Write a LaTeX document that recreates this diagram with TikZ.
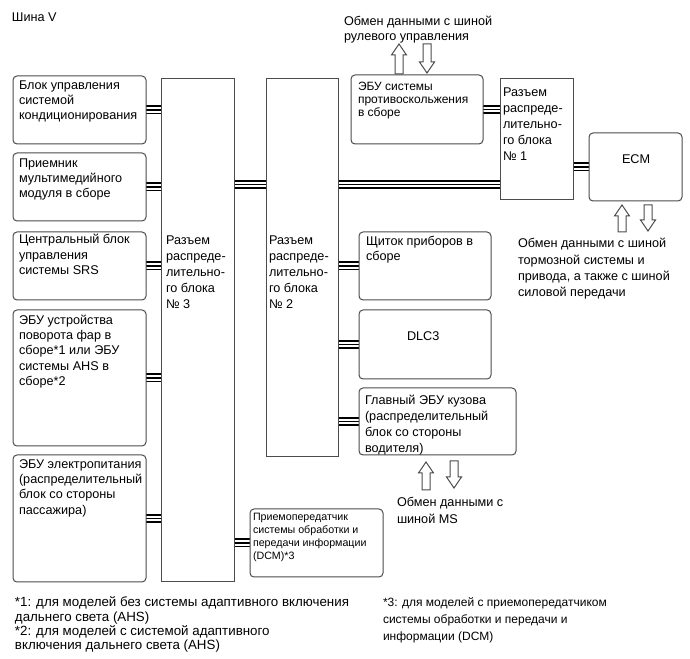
\documentclass[tikz,border=0pt]{standalone}
\usepackage{fontspec}
\setmainfont{Liberation Sans}
\usetikzlibrary{calc,backgrounds}
\newdimen\PX \PX=0.75pt
% box text: width, height, top offset, left offset, lines (all in px)
\newcommand\BT[5]{\parbox[c][#2\PX][t]{#1\PX}{\vspace*{#3\PX}\hspace*{#4\PX}\begin{tabular}[t]{@{}l@{}}#5\end{tabular}}}
\newcommand\TL[1]{\begin{tabular}[t]{@{}l@{}}#1\end{tabular}}
\newcommand\HUp[2]{\draw[harr,shift={(#1)}] (-4,0) -- (-4,{-#2+11}) -- (-7.5,{-#2+11}) -- (0,-#2) -- (7.5,{-#2+11}) -- (4,{-#2+11}) -- (4,0) -- cycle;}
\newcommand\HDn[2]{\draw[harr,shift={(#1)}] (-4,0) -- (-4,{#2-11}) -- (-7.5,{#2-11}) -- (0,#2) -- (7.5,{#2-11}) -- (4,{#2-11}) -- (4,0) -- cycle;}
\tikzset{
  bx/.style 2 args={draw=black!70, line width=0.75pt, rounded corners=3pt, inner sep=0pt, outer sep=0pt, anchor=north west, minimum width=#1*0.75pt, minimum height=#2*0.75pt},
  rx/.style 2 args={bx={#1}{#2}, sharp corners},
  bus/.style={draw=black, line width=6.75pt, postaction={draw=white, line width=4.1pt}, postaction={draw=black, line width=1.2pt}},
  harr/.style={draw=black!70, line width=0.75pt, fill=white},
  mainf/.style={font=\fontsize{9.5}{11.6}\selectfont},
  connf/.style={font=\fontsize{9.5}{12}\selectfont},
  smallf/.style={font=\fontsize{9}{10.1}\selectfont},
  tinyf/.style={font=\fontsize{8}{9.75}\selectfont},
  capf/.style={font=\fontsize{9.5}{12.2}\selectfont},
  txt/.style={inner sep=0pt, outer sep=0pt, anchor=base west}
}
\begin{document}
\begin{tikzpicture}[x=0.75pt,y=-0.75pt]
\begin{scope}[on background layer]
\fill[white] (0,0) rectangle (690,659);
\end{scope}
\useasboundingbox (0,0) rectangle (690,659);

% left column
\node[bx={133}{68}, mainf] (A) at (13,76) {\BT{133}{68}{2.2}{6}{Блок управления\\системой\\кондиционирования}};
\node[bx={133}{68}, mainf] (B) at (13,153) {\BT{133}{68}{3.2}{6}{Приемник\\мультимедийного\\модуля в сборе}};
\node[bx={133}{68}, mainf] (C) at (13,232) {\BT{133}{68}{1}{6}{Центральный блок\\управления\\системы SRS}};
\node[bx={133}{136}, mainf] (D) at (13,310) {\BT{133}{136}{3.2}{6}{ЭБУ устройства\\поворота фар в\\сборе*1 или ЭБУ\\системы AHS в\\сборе*2}};
\node[bx={133}{127}, mainf] (E) at (13,455) {\BT{133}{127}{2.2}{6}{ЭБУ электропитания\\(распределительный\\блок со стороны\\пассажира)}};

% junction blocks
\node[rx={73}{503}, connf] (J3) at (161,79) {\BT{73}{503}{154}{5}{Разъем\\распреде-\\лительно-\\го блока\\№ 3}};
\node[rx={72}{378}, connf] (J2) at (266,79) {\BT{72}{378}{154}{3}{Разъем\\распреде-\\лительно-\\го блока\\№ 2}};
\node[rx={73}{121}, connf] (J1) at (500,79) {\BT{73}{121}{6.8}{3}{Разъем\\распреде-\\лительно-\\го блока\\№ 1}};

% right side boxes
\node[bx={132}{69}, smallf] (ABS) at (351,75) {\BT{132}{69}{5.6}{7}{ЭБУ системы\\противоскольжения\\в сборе}};
\node[bx={93}{68}, mainf] (ECM) at (589,133) {\BT{93}{68}{19.2}{33}{ECM}};
\node[bx={132}{68}, mainf] (MET) at (359,232) {\BT{132}{68}{2.2}{7}{Щиток приборов в\\сборе}};
\node[bx={132}{69}, mainf] (DLC) at (359,310) {\BT{132}{69}{19.2}{48}{DLC3}};
\node[bx={157}{67}, connf] (BODY) at (359,388) {\BT{157}{67}{5.8}{6}{Главный ЭБУ кузова\\(распределительный\\блок со стороны\\водителя)}};
\node[bx={133}{68}, tinyf] (DCM) at (250,509) {\BT{133}{68}{2.9}{3}{Приемопередатчик\\системы обработки и\\передачи информации\\(DCM)*3}};

% buses
\coordinate (busY) at (0,184.5);
\begin{scope}[on background layer]
\draw[bus] (A.east) -- (A.east -| J3.west);
\draw[bus] (B.east) -- (B.east -| J3.west);
\draw[bus] (C.east) -- (C.east -| J3.west);
\draw[bus] (D.east) -- (D.east -| J3.west);
\draw[bus] (E.east) -- (E.east -| J3.west);
\draw[bus] (DCM.west) -- (DCM.west -| J3.east);
\draw[bus] (J3.east |- busY) -- (J2.west |- busY);
\draw[bus] (J2.east |- busY) -- (J1.west |- busY);
\draw[bus] (MET.west) -- (MET.west -| J2.east);
\draw[bus] (DLC.west) -- (DLC.west -| J2.east);
\draw[bus] (BODY.west) -- (BODY.west -| J2.east);
\draw[bus] (ABS.east) -- (ABS.east -| J1.west);
\draw[bus] (ECM.west) -- (ECM.west -| J1.east);
\end{scope}

% hollow arrows
\coordinate (a1) at (399,74); \coordinate (a2) at (427,44);
\coordinate (a3) at (622,232); \coordinate (a4) at (648,205);
\coordinate (a5) at (426,490); \coordinate (a6) at (454,461);
\HUp{a1}{30} \HDn{a2}{29}
\HUp{a3}{27} \HDn{a4}{26}
\HUp{a5}{28} \HDn{a6}{27}

% texts
\node[txt, mainf] (title) at (12,22) {Шина V};
\node[txt, font=\fontsize{9.5}{10.8}\selectfont] (capTop) at (344,26) {\TL{Обмен данными с шиной\\рулевого управления}};
\node[txt, capf] (capECM) at (518,248) {\TL{Обмен данными с шиной\\тормозной системы и\\привода, а также с шиной\\силовой передачи}};
\node[txt, capf] (capMS) at (397,507) {\TL{Обмен данными с\\шиной MS}};
\node[txt, font=\fontsize{10}{10.6}\selectfont] (n1) at (15,607) {\TL{*1: для моделей без системы адаптивного включения\\дальнего света (AHS)\\{}*2: для моделей с системой адаптивного\\включения дальнего света (AHS)}};
\node[txt, font=\fontsize{9}{12.4}\selectfont] (n3) at (383,607) {\TL{*3: для моделей с приемопередатчиком\\системы обработки и передачи и\\информации (DCM)}};
\end{tikzpicture}
\end{document}
